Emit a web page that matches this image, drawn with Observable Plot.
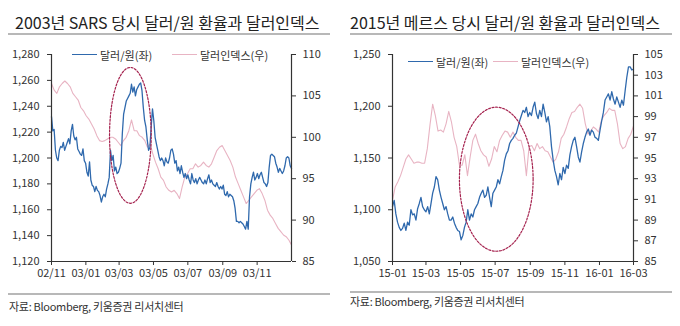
<!DOCTYPE html>
<html><head><meta charset="utf-8">
<script src="https://cdn.jsdelivr.net/npm/d3@7"></script>
<script src="https://cdn.jsdelivr.net/npm/@observablehq/plot@0.6"></script>
<style>
body{margin:0;background:#fff;}
#wrap{position:relative;width:680px;height:326px;overflow:hidden;font-family:"Noto Sans CJK KR","Noto Sans",sans-serif;color:#222;}
.title{position:absolute;top:11px;font-size:16px;line-height:22px;white-space:nowrap;letter-spacing:0px;}
.hr{position:absolute;height:2px;background:#b8b8b8;}
.chart{position:absolute;top:44px;width:340px;}
.leg{position:absolute;font-size:11px;line-height:14px;white-space:nowrap;color:#333;}
.sw{position:absolute;height:0;border-top-width:1.5px;border-top-style:solid;width:25px;}
.cap{position:absolute;font-size:11px;line-height:14px;white-space:nowrap;color:#333;letter-spacing:-0.3px;}
</style>
</head><body>
<div id="wrap">
  <div class="title" style="left:15px">2003년 SARS 당시 달러/원 환율과 달러인덱스</div>
  <div class="title" style="left:350px">2015년 메르스 당시 달러/원 환율과 달러인덱스</div>
  <div class="hr" style="left:8px;width:322px;top:33px"></div>
  <div class="hr" style="left:350px;width:322px;top:33px"></div>
  <div class="chart" id="c1" style="left:0px"></div>
  <div class="chart" id="c2" style="left:340px"></div>
  <div class="hr" style="left:8px;width:322px;top:293px;height:1.5px"></div>
  <div class="hr" style="left:350px;width:322px;top:291px;height:1.5px"></div>
  <div class="cap" style="left:9px;top:299px">자료: Bloomberg, 키움증권 리서치센터</div>
  <div class="cap" style="left:350px;top:294px">자료: Bloomberg, 키움증권 리서치센터</div>
</div>
<script>
// ---------- data: 2003 SARS ----------
const sarsPeriod = ["2002-11-01", "2004-01-01"];
const sarsKrw = [1232,1221,1222,1206,1200,1198,1206,1209,1208,1212,1206,1209,1212,1215,1211,1221,1226,1217,1214,1216,
1207,1205,1203,1202,1207,1198,1196,1189,1186,1197,1183,1179,1178,1174,1178,1175,1174,1171,1166,1170,
1172,1170,1176,1180,1185,1206,1198,1202,1190,1193,1188,1189,1192,1196,1219,1234,1239,1244,1246,1248,
1250,1257,1251,1255,1248,1253,1255,1257,1258,1252,1239,1229,1224,1214,1206,1208,1224,1238,1229,1216,
1211,1206,1201,1198,1200,1198,1194,1200,1197,1196,1200,1206,1207,1203,1196,1198,1190,1193,1188,1194,
1189,1185,1188,1184,1187,1183,1180,1188,1183,1181,1184,1180,1183,1185,1183,1181,1180,1183,1180,1184,
1187,1181,1183,1180,1179,1178,1181,1178,1176,1178,1176,1179,1172,1171,1174,1170,1172,1171,1170,1167,
1161,1151,1151,1150,1151,1150,1149,1147,1145,1151,1145,1170,1180,1185,1189,1183,1185,1188,1184,1187,
1189,1185,1181,1180,1178,1181,1193,1202,1203,1202,1201,1196,1193,1189,1192,1190,1188,1190,1194,1200,
1201,1200,1194,1192];
const sarsDxy = [106.5,105.7,105.3,106.1,106.5,106.8,106.5,106.1,105.3,104.9,104.5,103.6,103.2,102.6,102.2,101.6,101.0,100.2,99.6,99.5,
99.6,99.8,100.0,100.0,99.8,99.4,99.0,99.6,100.0,100.8,102.1,100.8,100.8,100.2,100.0,99.6,98.8,99.2,98.0,97.0,
96.2,95.2,94.8,94.0,93.6,93.4,93.6,93.2,92.6,94.0,95.2,95.6,96.2,96.2,96.8,96.4,96.6,97.0,96.6,96.4,
96.8,97.6,98.4,98.8,99.0,98.4,97.8,97.2,96.4,95.2,94.4,93.6,92.8,92.0,92.4,92.8,93.2,93.6,93.8,93.2,
92.4,91.2,90.6,90.2,89.6,89.0,88.6,88.2,88.0,87.6,87.0];
const sarsXTicks = ["2002-11-01","2003-01-01","2003-03-01","2003-05-01","2003-07-01","2003-09-01","2003-11-01"];
const sarsLeftTicks = [1120,1140,1160,1180,1200,1220,1240,1260,1280];
const sarsRightTicks = [85,90,95,100,105,110];
const sarsHighlight = {center: "2003-03-21", days: 37, value: 1217.5, spread: 52.5};

// ---------- data: 2015 MERS ----------
const mersPeriod = ["2015-01-01", "2016-03-01"];
const mersKrw = [1103,1109,1096,1088,1083,1080,1082,1087,1080,1088,1085,1100,1095,1096,1090,1101,1106,1112,1103,1100,
1098,1103,1096,1106,1116,1122,1132,1129,1119,1112,1106,1100,1103,1096,1090,1090,1093,1087,1083,1080,
1079,1071,1075,1083,1088,1100,1090,1096,1093,1100,1103,1106,1112,1116,1119,1112,1114,1122,1112,1103,
1116,1119,1122,1129,1125,1132,1138,1148,1154,1157,1164,1167,1169,1172,1174,1180,1186,1191,1196,1194,
1199,1190,1194,1191,1199,1204,1193,1188,1196,1190,1202,1194,1185,1190,1180,1161,1148,1138,1132,1124,
1135,1129,1141,1135,1143,1140,1153,1161,1167,1170,1161,1151,1146,1156,1164,1170,1175,1178,1172,1177,
1175,1170,1169,1167,1177,1186,1194,1206,1209,1212,1206,1214,1207,1202,1209,1204,1199,1206,1201,1215,
1228,1238,1238,1235,1236];
const mersDxy = [90.9,92.2,92.7,93.3,94.1,94.9,95.3,94.9,94.5,94.6,94.6,94.5,94.5,95.9,98.2,100.2,99.1,97.6,97.7,97.5,
98.3,99.5,98.5,97.0,96.1,94.3,94.3,95.3,93.3,95.1,96.7,97.3,96.4,95.7,95.3,95.1,94.2,94.9,96.1,95.6,
96.7,97.2,97.6,97.5,97.0,97.5,97.0,96.7,96.7,95.7,93.3,96.1,96.2,95.7,96.4,95.9,96.1,95.7,95.6,95.1,
94.6,94.9,95.6,96.9,97.3,98.0,98.8,99.4,99.5,99.9,100.2,99.8,98.3,97.3,97.6,98.0,97.8,97.5,98.6,99.1,
99.4,99.8,99.6,99.6,98.3,96.4,95.9,96.1,96.9,97.3,98.1];
const mersXTicks = ["2015-01-01","2015-03-01","2015-05-01","2015-07-01","2015-09-01","2015-11-01","2016-01-01","2016-03-01"];
const mersLeftTicks = [1050,1100,1150,1200,1250];
const mersRightTicks = [85,87,89,91,93,95,97,99,101,103,105];
const mersHighlight = {center: "2015-07-03", days: 65, value: 1129.5, spread: 69.6};

const legendLabels = ["달러/원(좌)", "달러인덱스(우)"];

const BLUE = "#2f69ad", PINK = "#e8b4c3", RED = "#a5234f", AXIS = "#333";
const FONT = '"Noto Sans CJK KR","Noto Sans",sans-serif';

function series(values, period) {
  const t = d3.scaleLinear([0, values.length - 1], [new Date(period[0]).getTime(), new Date(period[1]).getTime()]);
  return values.map((v, i) => ({date: new Date(t(i)), v}));
}
function ellipse(h) {
  const c = new Date(h.center).getTime(), pts = [];
  for (let i = 0; i < 96; i++) {
    const a = (i / 96) * 2 * Math.PI;
    pts.push({date: new Date(c + Math.cos(a) * h.days * 864e5), v: h.value + Math.sin(a) * h.spread});
  }
  return pts;
}

function chart(o) {
  const lDom = [o.lTicks[0], o.lTicks[o.lTicks.length - 1]];
  const rDom = [o.rTicks[0], o.rTicks[o.rTicks.length - 1]];
  const map = d3.scaleLinear(rDom, lDom);
  const xDom = o.period.map(d => new Date(d));
  return Plot.plot({
    width: 340, height: 236,
    marginLeft: o.ml, marginRight: o.mr, marginTop: 10, marginBottom: 19,
    x: {type: "utc", domain: xDom, label: null},
    y: {domain: lDom, label: null},
    style: {fontFamily: FONT, fontSize: "11px", color: AXIS, background: "transparent", overflow: "visible"},
    marks: [
      Plot.line(series(o.dxy, o.period), {x: "date", y: d => map(d.v), stroke: PINK, strokeWidth: 1.1}),
      Plot.line(series(o.krw, o.period), {x: "date", y: "v", stroke: BLUE, strokeWidth: 1.3}),
      Plot.line(ellipse(o.hl), {x: "date", y: "v", stroke: RED, strokeWidth: 1.2, strokeDasharray: "2,1.6", curve: "linear-closed"}),
      Plot.ruleY([lDom[0]], {stroke: AXIS, strokeWidth: 1.2}),
      Plot.ruleX(xDom, {stroke: AXIS, strokeWidth: 1.2}),
      Plot.axisY(o.lTicks, {anchor: "left", tickFormat: d3.format(","), tickSize: 4, tickPadding: 8, label: null}),
      Plot.axisY(o.rTicks.map(map), {anchor: "right", tickFormat: d => String(Math.round(map.invert(d))), tickSize: 4, tickPadding: 7, label: null}),
      Plot.axisX(o.xTicks.map(d => new Date(d)), {tickFormat: d3.utcFormat(o.fmt), tickSize: 4, tickPadding: 4, label: null})
    ]
  });
}

document.getElementById("c1").append(chart({
  period: sarsPeriod, krw: sarsKrw, dxy: sarsDxy, xTicks: sarsXTicks, lTicks: sarsLeftTicks, rTicks: sarsRightTicks,
  hl: sarsHighlight, fmt: "%y/%m", ml: 51, mr: 49
}));
document.getElementById("c2").append(chart({
  period: mersPeriod, krw: mersKrw, dxy: mersDxy, xTicks: mersXTicks, lTicks: mersLeftTicks, rTicks: mersRightTicks,
  hl: mersHighlight, fmt: "%y-%m", ml: 52, mr: 47
}));

// legends
const wrap = document.getElementById("wrap");
function legend(x, y, color, text) {
  const s = document.createElement("div");
  s.className = "sw"; s.style.left = x + "px"; s.style.top = (y - 0.75) + "px"; s.style.borderTopColor = color;
  wrap.append(s);
  const t = document.createElement("div");
  t.className = "leg"; t.style.left = (x + 28) + "px"; t.style.top = (y - 7.5) + "px"; t.textContent = text;
  wrap.append(t);
}
legend(72, 55, BLUE, legendLabels[0]);
legend(172, 55, PINK, legendLabels[1]);
legend(408, 62, BLUE, legendLabels[0]);
legend(493, 62, PINK, legendLabels[1]);
</script>
</body></html>
